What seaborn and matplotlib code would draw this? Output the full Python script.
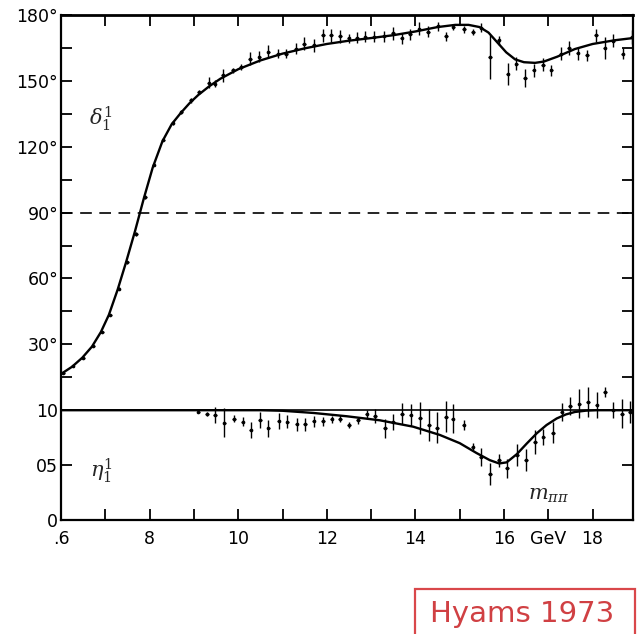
import numpy as np
import pandas as pd
import matplotlib
matplotlib.use("Agg")
import matplotlib.pyplot as plt
import seaborn as sns
from matplotlib.patches import Rectangle

# ---------------- data ----------------
# P-wave phase shift delta_1^1 (degrees) vs m_pipi (GeV)
delta_m = [0.604, 0.626, 0.650, 0.673, 0.692, 0.711, 0.730, 0.749, 0.769, 0.790,
           0.809, 0.831, 0.852, 0.872, 0.893, 0.912, 0.933, 0.947, 0.965, 0.988,
           1.006, 1.027, 1.048, 1.068, 1.089, 1.108, 1.131, 1.149, 1.170, 1.191,
           1.210, 1.230, 1.249, 1.268, 1.287, 1.307, 1.330, 1.349, 1.369, 1.388,
           1.409, 1.429, 1.450, 1.469, 1.486, 1.510, 1.530, 1.549, 1.569, 1.588,
           1.608, 1.628, 1.648, 1.667, 1.688, 1.707, 1.728, 1.747, 1.766, 1.787,
           1.808, 1.827, 1.847, 1.868, 1.889]
delta_val = [17.0, 20.0, 23.9, 29.2, 35.6, 43.4, 55.4, 67.3, 80.2, 97.0,
             111.9, 123.2, 130.7, 135.8, 141.1, 144.9, 149.2, 148.7, 152.5, 154.8,
             156.3, 160.1, 160.9, 163.2, 162.4, 162.4, 164.7, 167.0, 166.2, 170.8,
             170.8, 170.3, 169.3, 169.7, 170.0, 170.0, 170.3, 171.6, 169.3, 171.2,
             173.8, 172.3, 174.9, 170.3, 174.6, 173.4, 172.3, 174.3, 160.9, 168.5,
             153.3, 157.8, 151.4, 154.8, 157.4, 154.8, 162.4, 165.0, 162.6, 161.6,
             170.8, 165.0, 168.2, 162.4, 170.0]
delta_err = [0.5, 0.5, 0.5, 0.5, 0.5, 0.5, 0.8, 0.8, 0.8, 0.8,
             0.8, 0.8, 1.0, 1.0, 1.0, 1.0, 2.5, 1.5, 3.0, 1.0,
             1.5, 3.0, 2.5, 3.0, 2.0, 2.0, 2.5, 3.0, 3.0, 3.0,
             3.0, 3.0, 2.0, 2.5, 2.5, 2.5, 2.5, 3.0, 2.5, 2.5,
             3.0, 2.5, 2.0, 2.0, 1.5, 1.5, 1.5, 2.0, 10.0, 2.0,
             5.0, 3.0, 4.0, 3.0, 3.0, 2.5, 3.0, 3.0, 3.0, 2.5,
             3.0, 5.0, 3.0, 2.5, 3.0]

# fitted curve for delta_1^1
delta_fit_m = [0.600, 0.625, 0.648, 0.670, 0.690, 0.708, 0.728, 0.747, 0.767, 0.787,
               0.807, 0.829, 0.850, 0.870, 0.890, 0.910, 0.935, 0.960, 1.000,
               1.050, 1.100, 1.150, 1.200, 1.250, 1.300, 1.350, 1.400, 1.450, 1.490,
               1.520, 1.545, 1.565, 1.585, 1.605, 1.625, 1.645, 1.670, 1.690, 1.720,
               1.760, 1.800, 1.850, 1.891]
delta_fit = [16.5, 19.8, 23.9, 29.0, 35.6, 43.4, 55.0, 67.5, 81.5, 96.5,
             110.5, 122.5, 130.3, 135.3, 139.8, 143.6, 147.6, 151.0, 155.3,
             159.3, 162.4, 164.8, 166.8, 168.3, 169.5, 170.8, 172.5, 174.5, 175.5,
             175.5, 174.5, 172.0, 167.5, 163.0, 159.8, 158.5, 158.2, 158.8, 161.0,
             164.5, 166.8, 168.5, 169.5]

# inelasticity eta_1^1 vs m_pipi (GeV)
eta_m = [0.910, 0.929, 0.948, 0.969, 0.990, 1.010, 1.028, 1.049, 1.068, 1.091,
         1.111, 1.132, 1.151, 1.170, 1.191, 1.211, 1.230, 1.250, 1.271, 1.290,
         1.309, 1.331, 1.350, 1.370, 1.389, 1.410, 1.431, 1.449, 1.469, 1.484,
         1.509, 1.529, 1.547, 1.568, 1.589, 1.607, 1.629, 1.650, 1.670, 1.689,
         1.710, 1.730, 1.749, 1.770, 1.790, 1.809, 1.828, 1.847, 1.866, 1.885]
eta_val = [0.985, 0.964, 0.955, 0.888, 0.924, 0.894, 0.818, 0.909, 0.834, 0.900,
           0.894, 0.870, 0.870, 0.900, 0.900, 0.918, 0.924, 0.864, 0.909, 0.961,
           0.948, 0.834, 0.894, 0.970, 0.955, 0.930, 0.864, 0.840, 0.940, 0.924,
           0.864, 0.667, 0.576, 0.415, 0.545, 0.470, 0.591, 0.545, 0.712, 0.758,
           0.797, 0.985, 1.040, 1.060, 1.076, 1.045, 1.166, 1.000, 0.970, 0.985]
eta_err = [0.01, 0.02, 0.07, 0.13, 0.03, 0.04, 0.075, 0.075, 0.08, 0.075,
           0.06, 0.06, 0.06, 0.05, 0.04, 0.03, 0.03, 0.03, 0.03, 0.04,
           0.06, 0.09, 0.075, 0.10, 0.10, 0.145, 0.145, 0.14, 0.14, 0.13,
           0.045, 0.03, 0.08, 0.10, 0.06, 0.09, 0.10, 0.10, 0.11, 0.075,
           0.10, 0.08, 0.08, 0.13, 0.14, 0.12, 0.05, 0.075, 0.13, 0.10]

# fitted curve for eta_1^1
eta_fit_m = [0.600, 1.050, 1.100, 1.170, 1.245, 1.320, 1.395, 1.455, 1.500, 1.538,
             1.568, 1.589, 1.606, 1.629, 1.651, 1.674, 1.696, 1.719, 1.740, 1.760,
             1.785, 1.810, 1.891]
eta_fit = [1.000, 1.000, 0.995, 0.975, 0.945, 0.908, 0.850, 0.775, 0.700, 0.610,
           0.545, 0.515, 0.525, 0.600, 0.695, 0.790, 0.865, 0.925, 0.962, 0.984,
           0.996, 1.000, 1.000]

# axis tick labels
x_tick_pos = [0.6, 0.7, 0.8, 0.9, 1.0, 1.1, 1.2, 1.3, 1.4, 1.5, 1.6, 1.7, 1.8]
x_tick_lab = [".6", "", "8", "", "10", "", "12", "", "14", "", "16", "GeV", "18"]
y_tick_lab = ["0", "05", "10", "30°", "60°", "90°", "120°", "150°", "180°"]
eta_ticks = [0.0, 0.5, 1.0]
delta_ticks = [30, 60, 90, 120, 150, 180]
delta_minor = [15, 45, 75, 105, 135, 165]

# ---------------- plotting ----------------
ETA_SCALE = 50.0  # eta = 1 sits at delta = 0, eta = 0 at -50 on the shared axis


def eta_to_y(v):
    return (np.asarray(v, dtype=float) - 1.0) * ETA_SCALE


sns.set_theme(style="ticks")
plt.rcParams["font.family"] = ["DejaVu Sans"]
plt.rcParams["mathtext.fontset"] = "dejavuserif"

fig = plt.figure(figsize=(6.43, 6.34), dpi=100)
ax = fig.add_axes([61 / 643, 1 - 520 / 634, 572 / 643, 505 / 634])

d_pts = pd.DataFrame({"m": delta_m, "v": delta_val, "e": delta_err})
e_pts = pd.DataFrame({"m": eta_m, "v": eta_to_y(eta_val), "e": np.asarray(eta_err) * ETA_SCALE})
d_fit = pd.DataFrame({"m": delta_fit_m, "v": delta_fit})
e_fit = pd.DataFrame({"m": eta_fit_m, "v": eta_to_y(eta_fit)})

# reference lines
ax.axhline(90, color="black", lw=1.2, dashes=(7, 4.5), zorder=1)
ax.axhline(0, color="black", lw=1.2, zorder=1)

# fitted curves
sns.lineplot(data=d_fit, x="m", y="v", ax=ax, color="black", lw=1.7,
             sort=False, estimator=None, zorder=3)
sns.lineplot(data=e_fit, x="m", y="v", ax=ax, color="black", lw=1.7,
             sort=False, estimator=None, zorder=3)

# data points with error bars
for df in (d_pts, e_pts):
    ax.errorbar(df["m"], df["v"], yerr=df["e"], xerr=0.004, fmt="none",
                ecolor="black", elinewidth=1.0, capsize=0, zorder=4)
    sns.scatterplot(data=df, x="m", y="v", ax=ax, color="black", s=7,
                    linewidth=0, zorder=5)

ax.set_xlim(0.6, 0.6 + 572 / 443)
ax.set_ylim(-50, 180)

ax.set_xticks(x_tick_pos)
ax.set_xticklabels(x_tick_lab)
y_major = list(eta_to_y(eta_ticks)) + delta_ticks
ax.set_yticks(y_major)
ax.set_yticklabels(y_tick_lab)
ax.set_yticks(delta_minor, minor=True)

ax.tick_params(axis="both", which="both", direction="in", length=8, width=1.3,
               color="black", top=True, right=True)
ax.tick_params(axis="x", labelsize=12.5, pad=7, labelcolor="black")
ax.tick_params(axis="y", labelsize=12.5, pad=2, labelcolor="black")
ax.set_xlabel("")
ax.set_ylabel("")

for side, s in ax.spines.items():
    s.set_color("black")
    s.set_linewidth(1.6)
ax.spines["top"].set_linewidth(2.0)

# panel labels
ax.text(0.69, 133, r"$\delta_1^1$", fontsize=15, ha="center", va="center")
ax.text(0.69, eta_to_y(0.445), r"$\eta_1^1$", fontsize=15, ha="center", va="center")
ax.text(1.70, eta_to_y(0.23), r"$m_{\pi\pi}$", fontsize=15, ha="center", va="center")

# source box
fig.patches.append(Rectangle((415 / 643, -0.02), 220 / 643, 0.02 + (634 - 589) / 634,
                             transform=fig.transFigure, fill=False,
                             edgecolor="#d9474a", linewidth=1.6))
fig.text(522 / 643, 1 - 614 / 634, "Hyams 1973", color="#d04043",
         fontsize=21, ha="center", va="center")

fig.savefig("out.png", dpi=100)
